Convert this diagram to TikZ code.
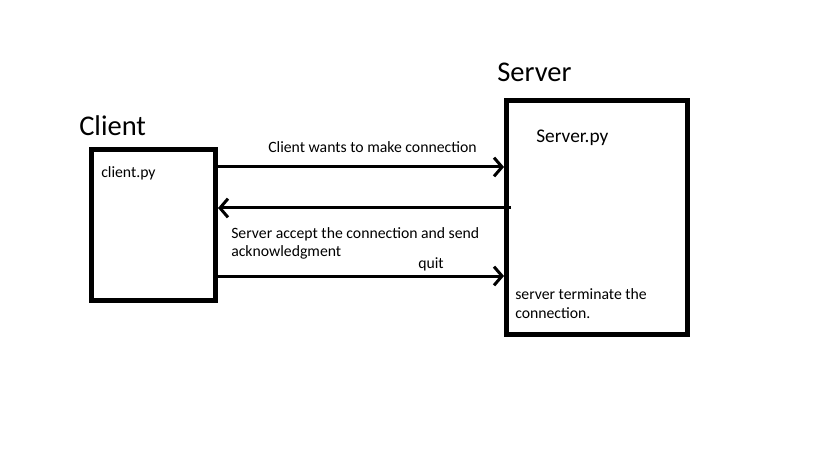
\documentclass[tikz,border=0pt]{standalone}
\usepackage{fontspec}
\setmainfont{Carlito}
\usetikzlibrary{arrows.meta}
\tikzset{
	every node/.style = {font=\fontsize{11.8}{14}\selectfont, inner sep=0pt},
	progbox/.style = {draw, line width=3.75pt, minimum width=93pt, minimum height=113pt},
	title/.style = {font=\fontsize{21.4}{24}\selectfont, anchor=base west},
	note/.style = {anchor=base west},
	msg/.style = {line width=2.25pt, -{Straight Barb[length=6pt, width=14pt, line width=2.25pt]}}
}
\begin{document}
\begin{tikzpicture}[x=0.75pt, y=-0.75pt]
		\useasboundingbox (0,0) rectangle (819,460);
		% boxes
		\node[progbox] (client) at (153.5,225.25) {};
		\node[progbox, minimum width=135.75pt, minimum height=175.5pt] (server) at (597,217.5) {};
		
		% titles
		\node[title] (clienttitle) at (79,136) {Client};
		\node[title] (servertitle) at (497,82) {Server};
		\node[note] (clientfile) at (101,178) {client.py};
		\node[note, font=\fontsize{14.5}{17}\selectfont] (serverfile) at (536,143) {Server.py};
		\node[note, align=left] (terminate) at (515,318) {server terminate the\\connection.};
		
		% messages
		\coordinate (m1) at (0,167);
		\coordinate (m2) at (511,208);
		\coordinate (m3) at (0,276);
		\draw[msg] (client.east |- m1) -- (server.west |- m1);
		\draw[msg] (m2) -- (client.east |- m2);
		\draw[msg] (client.east |- m3) -- (server.west |- m3);
		
		\node[note] (connect) at (268,153) {Client wants to make connection};
		\node[note, align=left] (accept) at (231,257) {Server accept the connection and send\\acknowledgment};
		\node[note] (quit) at (418,268) {quit};
	\end{tikzpicture}
\end{document}
